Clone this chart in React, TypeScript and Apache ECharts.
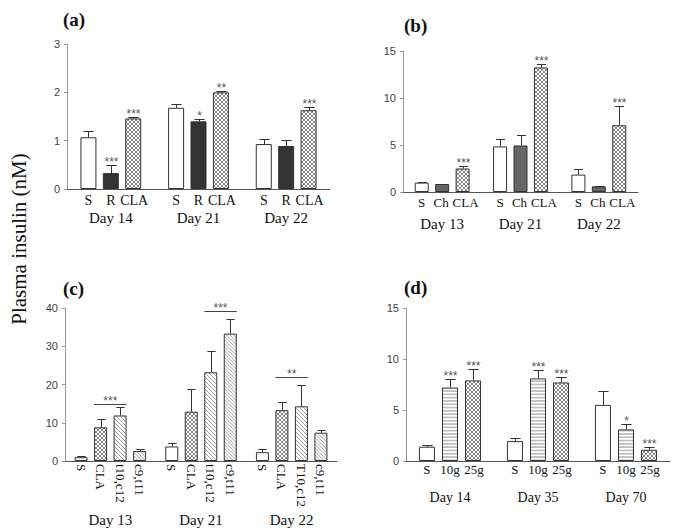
import React, { useEffect, useRef } from "react";
import * as echarts from "echarts";

const SERIF = "Liberation Serif";
const SANS = "Liberation Sans";

// ---------- Panel (a) ----------
const daysA = ["Day 14", "Day 21", "Day 22"];
const groupsA = ["S", "R", "CLA"];
const meanA = [
  [1.07, 1.68, 0.93],
  [0.33, 1.4, 0.89],
  [1.46, 2.0, 1.63],
];
const semA = [
  [0.14, 0.08, 0.11],
  [0.16, 0.05, 0.13],
  [0.04, 0.03, 0.06],
];
const starsA = [
  ["", "", ""],
  ["***", "*", ""],
  ["***", "**", "***"],
];

// ---------- Panel (b) ----------
const daysB = ["Day 13", "Day 21", "Day 22"];
const groupsB = ["S", "Ch", "CLA"];
const meanB = [
  [1.0, 4.85, 1.85],
  [0.85, 4.95, 0.6],
  [2.5, 13.25, 7.1],
];
const semB = [
  [0.1, 0.75, 0.55],
  [0.04, 1.15, 0.05],
  [0.25, 0.4, 2.1],
];
const starsB = [
  ["", "", ""],
  ["", "", ""],
  ["***", "***", "***"],
];

// ---------- Panel (c) ----------
const daysC = ["Day 13", "Day 21", "Day 22"];
const groupsC = ["S", "CLA", "t10,c12", "c9,t11"];
const barLabelsC = [
  ["S", "S", "S"],
  ["CLA", "CLA", "CLA"],
  ["t10,c12", "t10,c12", "T10,c12"],
  ["c9,t11", "c9,t11", "c9,t11"],
];
const meanC = [
  [1.0, 3.8, 2.3],
  [8.8, 12.9, 13.3],
  [11.9, 23.2, 14.3],
  [2.6, 33.3, 7.4],
];
const semC = [
  [0.4, 1.0, 0.8],
  [2.2, 5.9, 2.1],
  [2.1, 5.6, 5.5],
  [0.5, 3.9, 0.8],
];
// [day index, from group, to group, level, stars]
const sigC: [number, number, number, number, string][] = [
  [0, 1, 2, 14.9, "***"],
  [1, 2, 3, 39.2, "***"],
  [2, 1, 2, 22.0, "**"],
];

// ---------- Panel (d) ----------
const daysD = ["Day 14", "Day 35", "Day 70"];
const groupsD = ["S", "10g", "25g"];
const meanD = [
  [1.4, 1.95, 5.5],
  [7.2, 8.1, 3.1],
  [7.9, 7.7, 1.1],
];
const semD = [
  [0.15, 0.3, 1.4],
  [0.8, 0.8, 0.5],
  [1.1, 0.5, 0.3],
];
const starsD = [
  ["", "", ""],
  ["***", "***", "*"],
  ["***", "***", "***"],
];

// ---------- fills ----------
const svgUrl = (s: string) =>
  "data:image/svg+xml;charset=utf-8," + encodeURIComponent(s);
const crossFill = {
  image: svgUrl(
    "<svg xmlns='http://www.w3.org/2000/svg' width='4' height='4'><rect width='4' height='4' fill='#ffffff'/><path d='M0 0L4 4M4 0L0 4' stroke='#6a6a6a' stroke-width='0.8'/></svg>"
  ),
  repeat: "repeat",
  imageWidth: 4,
  imageHeight: 4,
};
const diagFill = {
  image: svgUrl(
    "<svg xmlns='http://www.w3.org/2000/svg' width='4' height='4'><rect width='4' height='4' fill='#ffffff'/><path d='M-1 -1L5 5M-1 3L1 5M3 -1L5 1' stroke='#7a7a7a' stroke-width='0.7'/></svg>"
  ),
  repeat: "repeat",
  imageWidth: 4,
  imageHeight: 4,
};
const diagFill2 = {
  image: svgUrl(
    "<svg xmlns='http://www.w3.org/2000/svg' width='3.5' height='3.5'><rect width='3.5' height='3.5' fill='#ffffff'/><path d='M-1 -1L4.5 4.5M-1 2.5L1 4.5M2.5 -1L4.5 1' stroke='#7a7a7a' stroke-width='0.7'/></svg>"
  ),
  repeat: "repeat",
  imageWidth: 3.5,
  imageHeight: 3.5,
};
const horizFill = {
  image: svgUrl(
    "<svg xmlns='http://www.w3.org/2000/svg' width='4' height='3.3'><rect width='4' height='3.3' fill='#ffffff'/><path d='M0 1.65H4' stroke='#6a6a6a' stroke-width='0.8'/></svg>"
  ),
  repeat: "repeat",
  imageWidth: 4,
  imageHeight: 3.3,
};

type Panel = {
  days: string[];
  groups: string[];
  labels: string[][];
  labelShift: number[];
  mean: number[][];
  sem: number[][];
  stars: string[][];
  fills: any[];
  grid: { left: number; top: number; width: number; height: number };
  max: number;
  interval: number;
  barWidth: number;
  gap: number;
  subFont: number;
  subDist: number;
  rotateSub: boolean;
  dayFont: number;
  dayMargin: number;
};

const sameLabels = (groups: string[], n: number) =>
  groups.map((g) => Array.from({ length: n }, () => g));

const panels: Panel[] = [
  {
    days: daysA,
    groups: groupsA,
    labels: sameLabels(groupsA, daysA.length),
    labelShift: [0, 0, 1],
    mean: meanA,
    sem: semA,
    stars: starsA,
    fills: ["#ffffff", "#333333", crossFill],
    grid: { left: 67, top: 44, width: 263, height: 145 },
    max: 3,
    interval: 1,
    barWidth: 16,
    gap: 0.4,
    subFont: 14,
    subDist: 4,
    rotateSub: false,
    dayFont: 15,
    dayMargin: 21,
  },
  {
    days: daysB,
    groups: groupsB,
    labels: sameLabels(groupsB, daysB.length),
    labelShift: [0, -1, 3],
    mean: meanB,
    sem: semB,
    stars: starsB,
    fills: ["#ffffff", "#666666", crossFill],
    grid: { left: 403, top: 51, width: 235, height: 141 },
    max: 15,
    interval: 5,
    barWidth: 14,
    gap: 0.46,
    subFont: 13,
    subDist: 4,
    rotateSub: false,
    dayFont: 15,
    dayMargin: 24,
  },
  {
    days: daysC,
    groups: groupsC,
    labels: barLabelsC,
    labelShift: [0, 0, 0, 0],
    mean: meanC,
    sem: semC,
    stars: groupsC.map(() => ["", "", ""]),
    fills: ["#ffffff", crossFill, diagFill, diagFill2],
    grid: { left: 65, top: 308, width: 272, height: 153 },
    max: 40,
    interval: 10,
    barWidth: 13,
    gap: 0.5,
    subFont: 13,
    subDist: 3,
    rotateSub: true,
    dayFont: 15,
    dayMargin: 51,
  },
  {
    days: daysD,
    groups: groupsD,
    labels: sameLabels(groupsD, daysD.length),
    labelShift: [0, 0, 1],
    mean: meanD,
    sem: semD,
    stars: starsD,
    fills: ["#ffffff", horizFill, crossFill],
    grid: { left: 406, top: 308, width: 264, height: 153 },
    max: 15,
    interval: 5,
    barWidth: 16,
    gap: 0.44,
    subFont: 13,
    subDist: 2,
    rotateSub: false,
    dayFont: 14,
    dayMargin: 29,
  },
];

function buildOption() {
  const grids: any[] = [];
  const xAxes: any[] = [];
  const yAxes: any[] = [];
  const series: any[] = [];

  panels.forEach((p, pi) => {
    grids.push({ ...p.grid, containLabel: false });
    xAxes.push({
      type: "category",
      gridIndex: pi,
      data: p.days,
      axisLine: { show: true, lineStyle: { color: "#555", width: 1 } },
      axisTick: { show: false },
      axisLabel: {
        fontFamily: SERIF,
        fontSize: p.dayFont,
        color: "#111",
        margin: p.dayMargin,
      },
      splitLine: { show: false },
    });
    yAxes.push({
      type: "value",
      gridIndex: pi,
      min: 0,
      max: p.max,
      interval: p.interval,
      axisLine: { show: true, lineStyle: { color: "#999", width: 1 } },
      axisTick: { show: true, length: 3, lineStyle: { color: "#999" } },
      axisLabel: { fontFamily: SANS, fontSize: 11, color: "#444", margin: 7 },
      splitLine: { show: false },
    });

    p.groups.forEach((g, gi) => {
      const label: any = {
        show: true,
        position: "bottom",
        distance: p.subDist,
        fontFamily: SERIF,
        fontSize: p.subFont,
        color: "#111",
        offset: [p.labelShift[gi], 0],
        formatter: (prm: any) => p.labels[gi][prm.dataIndex],
      };
      if (p.rotateSub) {
        label.rotate = -90;
        label.align = "left";
        label.verticalAlign = "middle";
      }
      series.push({
        type: "bar",
        name: g,
        xAxisIndex: pi,
        yAxisIndex: pi,
        data: p.mean[gi],
        barWidth: p.barWidth,
        barGap: `${Math.round(p.gap * 100)}%`,
        itemStyle: { color: p.fills[gi], borderColor: "#333", borderWidth: 1 },
        label,
        silent: true,
        z: 2,
      });
    });

    // error bars + stars
    const errData: number[][] = [];
    const errStars: string[] = [];
    p.groups.forEach((_, gi) => {
      p.days.forEach((__, di) => {
        errData.push([di, gi, p.mean[gi][di], p.mean[gi][di] + p.sem[gi][di]]);
        errStars.push(p.stars[gi][di]);
      });
    });
    const n = p.groups.length;
    const step = p.barWidth * (1 + p.gap);
    series.push({
      type: "custom",
      xAxisIndex: pi,
      yAxisIndex: pi,
      data: errData,
      encode: { x: 0, y: [2, 3] },
      silent: true,
      clip: false,
      z: 5,
      renderItem: (params: any, api: any) => {
        const di = api.value(0);
        const gi = api.value(1);
        const base = api.coord([di, api.value(2)]);
        const top = api.coord([di, api.value(3)]);
        const x = Math.round(base[0] + (gi - (n - 1) / 2) * step) + 0.5;
        const ty = Math.round(top[1]) + 0.5;
        const cap = p.barWidth * 0.32;
        const children: any[] = [
          {
            type: "line",
            shape: { x1: x, y1: base[1], x2: x, y2: ty },
            style: { stroke: "#333", lineWidth: 1 },
          },
          {
            type: "line",
            shape: { x1: x - cap, y1: ty, x2: x + cap, y2: ty },
            style: { stroke: "#333", lineWidth: 1 },
          },
        ];
        const s = errStars[params.dataIndex];
        if (s) {
          children.push({
            type: "text",
            x,
            y: ty - 4,
            style: {
              text: s,
              fontFamily: SANS,
              fontSize: 12,
              fill: "#555",
              align: "center",
              verticalAlign: "middle",
            },
          });
        }
        return { type: "group", children };
      },
    });

    if (pi === 2) {
      series.push({
        type: "custom",
        xAxisIndex: pi,
        yAxisIndex: pi,
        data: sigC.map((s) => [s[0], s[1], s[2], s[3]]),
        encode: { x: 0, y: 3 },
        silent: true,
        clip: false,
        z: 5,
        renderItem: (params: any, api: any) => {
          const di = api.value(0);
          const a = api.value(1);
          const b = api.value(2);
          const c = api.coord([di, api.value(3)]);
          const x1 = c[0] + (a - (n - 1) / 2) * step - p.barWidth / 2;
          const x2 = c[0] + (b - (n - 1) / 2) * step + p.barWidth / 2;
          const y = Math.round(c[1]) + 0.5;
          return {
            type: "group",
            children: [
              {
                type: "line",
                shape: { x1, y1: y, x2, y2: y },
                style: { stroke: "#444", lineWidth: 1 },
              },
              {
                type: "text",
                x: (x1 + x2) / 2,
                y: y - 4,
                style: {
                  text: sigC[params.dataIndex][4],
                  fontFamily: SANS,
                  fontSize: 12,
                  fill: "#555",
                  align: "center",
                  verticalAlign: "middle",
                },
              },
            ],
          };
        },
      });
    }
  });

  const titleText = (t: string, x: number, y: number) => ({
    type: "text",
    x,
    y,
    style: {
      text: t,
      fontFamily: SERIF,
      fontWeight: "bold",
      fontSize: 19,
      fill: "#111",
      align: "left",
      verticalAlign: "middle",
    },
  });

  return {
    animation: false,
    backgroundColor: "#ffffff",
    grid: grids,
    xAxis: xAxes,
    yAxis: yAxes,
    series,
    graphic: [
      titleText("(a)", 63, 19),
      titleText("(b)", 404, 25),
      titleText("(c)", 63, 288),
      titleText("(d)", 404, 287),
      {
        type: "text",
        x: 19,
        y: 239,
        rotation: Math.PI / 2,
        style: {
          text: "Plasma insulin (nM)",
          fontFamily: SERIF,
          fontSize: 21,
          fill: "#111",
          align: "center",
          verticalAlign: "middle",
        },
      },
    ],
  };
}

export default function App() {
  const ref = useRef<HTMLDivElement>(null);
  useEffect(() => {
    if (!ref.current) return;
    const chart = echarts.init(ref.current, undefined, { renderer: "svg" });
    chart.setOption(buildOption() as any);
    return () => chart.dispose();
  }, []);
  return (
    <div
      ref={ref}
      style={{ position: "fixed", left: 0, top: 0, width: 685, height: 528 }}
    />
  );
}
